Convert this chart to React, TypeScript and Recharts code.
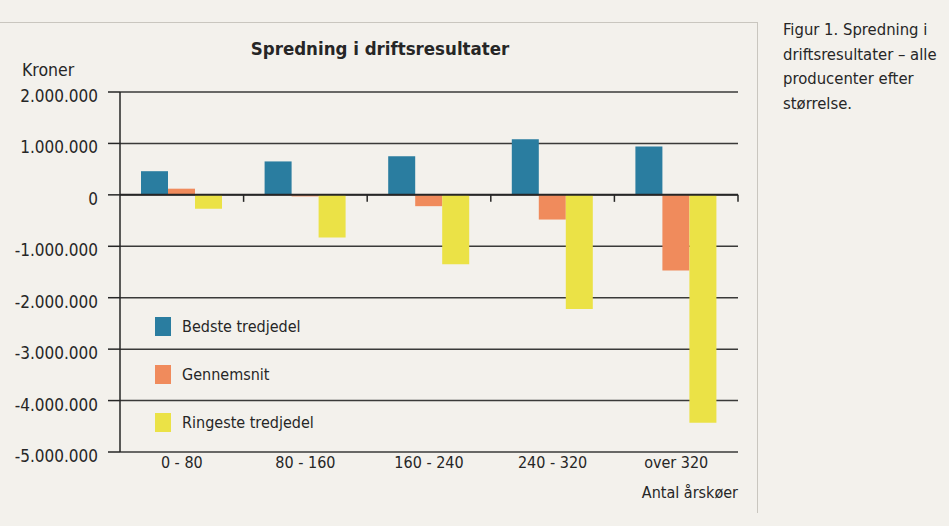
import React from "react";
import {
  BarChart,
  Bar,
  XAxis,
  YAxis,
  CartesianGrid,
  ReferenceLine,
} from "recharts";

const categories = ["0 - 80", "80 - 160", "160 - 240", "240 - 320", "over 320"];
const bedste = [460000, 650000, 750000, 1080000, 940000];
const gennemsnit = [120000, -30000, -220000, -480000, -1470000];
const ringeste = [-270000, -830000, -1350000, -2220000, -4430000];
const yTicks = [2000000, 1000000, 0, -1000000, -2000000, -3000000, -4000000, -5000000];
const captionLines = ["Figur 1. Spredning i", "driftsresultater – alle", "producenter efter", "størrelse."];

const data = categories.map((c, i) => ({
  name: c,
  bedste: bedste[i],
  gennemsnit: gennemsnit[i],
  ringeste: ringeste[i],
}));

const FONT = '"DejaVu Sans Condensed", "Roboto", sans-serif';
const INK = "#262626";
const BG = "#f3f1ec";

const fmt = (v: number) => {
  const s = Math.abs(v).toString().replace(/\B(?=(\d{3})+(?!\d))/g, ".");
  return v < 0 ? "-" + s : s;
};

const series = [
  { key: "bedste", label: "Bedste tredjedel", color: "#2a7da0" },
  { key: "gennemsnit", label: "Gennemsnit", color: "#f08b5c" },
  { key: "ringeste", label: "Ringeste tredjedel", color: "#ebe246" },
];

// legend kept outside recharts so it doesn't eat plot space
function LegendBox() {
  return (
    <div style={{ position: "absolute", left: 155, top: 302, fontSize: 16, color: INK }}>
      {series.map((s) => (
        <div key={s.key} style={{ display: "flex", alignItems: "center", height: 48 }}>
          <span style={{ width: 16, height: 19, background: s.color, marginRight: 11 }} />
          <span>{s.label}</span>
        </div>
      ))}
    </div>
  );
}

// y labels sit a few px below their grid line in the original
function YTick(props: any) {
  const { x, y, payload } = props;
  return (
    <text x={x} y={y + 4} dy="0.355em" textAnchor="end" fontSize={17} fill={INK} fontFamily={FONT}>
      {fmt(payload.value)}
    </text>
  );
}

// zero line with small ticks at the category boundaries
function ZeroLine(props: any) {
  const { x1, x2, y1 } = props;
  const step = (x2 - x1) / categories.length;
  return (
    <g>
      <line x1={x1} x2={x2} y1={y1} y2={y1} stroke={INK} strokeWidth={2} />
      {categories.map((_, i) => (
        <line
          key={i}
          x1={x1 + step * (i + 1)}
          x2={x1 + step * (i + 1)}
          y1={y1}
          y2={y1 + 7}
          stroke={INK}
          strokeWidth={1.5}
        />
      ))}
    </g>
  );
}

export default function App() {
  return (
    <div
      style={{
        position: "absolute",
        left: 0,
        top: 0,
        width: 949,
        height: 526,
        background: BG,
        fontFamily: FONT,
        color: INK,
        overflow: "hidden",
      }}
    >
      <div
        style={{
          position: "absolute",
          left: -2,
          top: 22,
          width: 759,
          height: 490,
          borderTop: "1px solid #c9c6bf",
          borderRight: "1px solid #c9c6bf",
        }}
      />
      <BarChart
        width={949}
        height={526}
        data={data}
        margin={{ top: 92, right: 211, left: 10, bottom: 44 }}
        barSize={27}
        barGap={0}
        style={{ position: "absolute", left: 0, top: 0 }}
      >
        <CartesianGrid horizontal vertical={false} stroke={INK} strokeWidth={1.5} strokeOpacity={0.9} />
        <XAxis
          dataKey="name"
          height={30}
          axisLine={false}
          tickLine={false}
          tickSize={0}
          tickMargin={5}
          tick={{ fontSize: 16, fill: INK, fontFamily: FONT }}
        />
        <YAxis
          width={110}
          domain={[-5000000, 2000000]}
          ticks={yTicks}
          interval={0}
          axisLine={{ stroke: INK, strokeWidth: 1.5 }}
          tickLine={{ stroke: INK, strokeWidth: 1.5 }}
          tickSize={12}
          tickMargin={10}
          tick={<YTick />}
        />
        {series.map((s) => (
          <Bar key={s.key} dataKey={s.key} name={s.label} fill={s.color} isAnimationActive={false} />
        ))}
        <ReferenceLine y={0} shape={(p: any) => <ZeroLine {...p} />} />
      </BarChart>
      <LegendBox />
      <div
        style={{
          position: "absolute",
          left: 0,
          width: 760,
          top: 38,
          textAlign: "center",
          fontWeight: "bold",
          fontSize: 18.5,
        }}
      >
        Spredning i driftsresultater
      </div>
      <div style={{ position: "absolute", left: 22, top: 60, fontSize: 17.5 }}>Kroner</div>
      <div style={{ position: "absolute", right: 949 - 738, top: 483, fontSize: 16 }}>
        Antal årskøer
      </div>
      <div style={{ position: "absolute", left: 783, top: 18, fontSize: 16.5, lineHeight: "24.5px" }}>
        {captionLines.map((l) => (
          <div key={l}>{l}</div>
        ))}
      </div>
    </div>
  );
}
